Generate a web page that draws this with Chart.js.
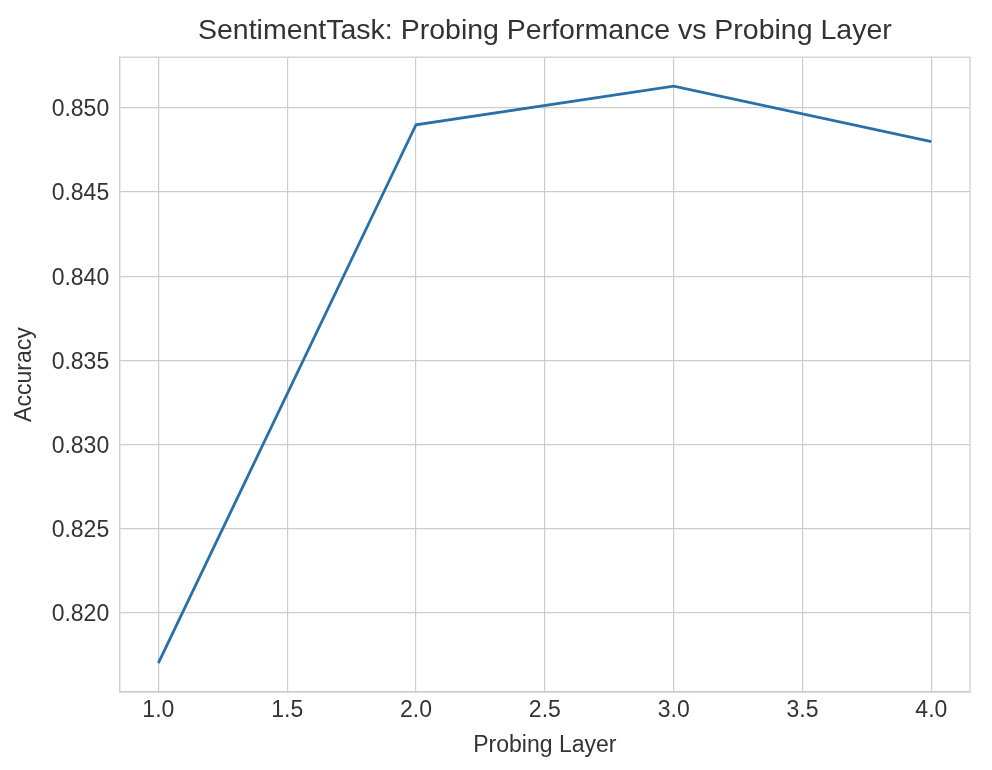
<!DOCTYPE html>
<html>
<head>
<meta charset="utf-8">
<script src="https://cdn.jsdelivr.net/npm/chart.js@4/dist/chart.umd.min.js"></script>
<style>
  html, body { margin: 0; padding: 0; background: #ffffff; }
  #wrap { width: 992px; height: 770px; }
</style>
</head>
<body>
<div id="wrap"><canvas id="c" width="992" height="770"></canvas></div>
<script>
// ---- data ----
const layers = [1, 2, 3, 4];
const accuracy = [0.817, 0.849, 0.8513, 0.848];
const xTicks = [1.0, 1.5, 2.0, 2.5, 3.0, 3.5, 4.0];
const yTicks = [0.820, 0.825, 0.830, 0.835, 0.840, 0.845, 0.850];
const chartTitle = 'SentimentTask: Probing Performance vs Probing Layer';
const xLabel = 'Probing Layer';
const yLabel = 'Accuracy';

// 5% margins like matplotlib
function padRange(arr) {
  const lo = Math.min(...arr), hi = Math.max(...arr);
  const m = (hi - lo) * 0.05;
  return [lo - m, hi + m];
}
const [xMin, xMax] = padRange(layers);
const [yMin, yMax] = padRange(accuracy);

const FONT = "'Liberation Sans', Arial, sans-serif";
const GRID = '#cccccc';
const TXT = '#333333';

new Chart(document.getElementById('c'), {
  type: 'line',
  data: {
    datasets: [{
      data: layers.map((x, i) => ({ x: x, y: accuracy[i] })),
      borderColor: '#2a70a8',
      borderWidth: 2.8,
      pointRadius: 0,
      pointHoverRadius: 0,
      fill: false,
      tension: 0
    }]
  },
  options: {
    responsive: false,
    animation: false,
    devicePixelRatio: 1,
    layout: { padding: { left: 0, right: 22, top: 0, bottom: 0 } },
    plugins: {
      legend: { display: false },
      tooltip: { enabled: false },
      title: {
        display: true,
        text: chartTitle,
        fullSize: false,
        color: TXT,
        font: { family: FONT, size: 28.5, weight: 'normal' },
        padding: { top: 14, bottom: 9 }
      }
    },
    scales: {
      x: {
        type: 'linear',
        min: xMin,
        max: xMax,
        afterBuildTicks: (s) => { s.ticks = xTicks.map(v => ({ value: v })); },
        afterFit: (s) => { s.height = 78; },
        grid: { color: GRID, lineWidth: 1.2, drawTicks: false },
        border: { color: GRID, width: 1.2 },
        ticks: {
          color: TXT,
          padding: 5,
          font: { family: FONT, size: 23 },
          maxRotation: 0,
          autoSkip: false,
          callback: (v) => Number(v).toFixed(1)
        },
        title: {
          display: true,
          text: xLabel,
          color: TXT,
          font: { family: FONT, size: 23 },
          padding: { top: 0, bottom: 10.7 }
        }
      },
      y: {
        type: 'linear',
        min: yMin,
        max: yMax,
        afterBuildTicks: (s) => { s.ticks = yTicks.map(v => ({ value: v })); },
        afterFit: (s) => { s.width = 119.7; },
        grid: { color: GRID, lineWidth: 1.2, drawTicks: false },
        border: { color: GRID, width: 1.2 },
        ticks: {
          color: TXT,
          padding: 10.5,
          labelOffset: 2,
          font: { family: FONT, size: 23 },
          autoSkip: false,
          callback: (v) => Number(v).toFixed(3)
        },
        title: {
          display: true,
          text: yLabel,
          color: TXT,
          font: { family: FONT, size: 23 },
          padding: { top: 11, bottom: 0 }
        }
      }
    }
  },
  plugins: [{
    id: 'rightTopBorder',
    afterDraw(chart) {
      const a = chart.chartArea, ctx = chart.ctx;
      ctx.save();
      ctx.strokeStyle = GRID;
      ctx.lineWidth = 1.2;
      ctx.strokeRect(a.left, a.top, a.right - a.left, a.bottom - a.top);
      ctx.restore();
    }
  }]
});
</script>
</body>
</html>
